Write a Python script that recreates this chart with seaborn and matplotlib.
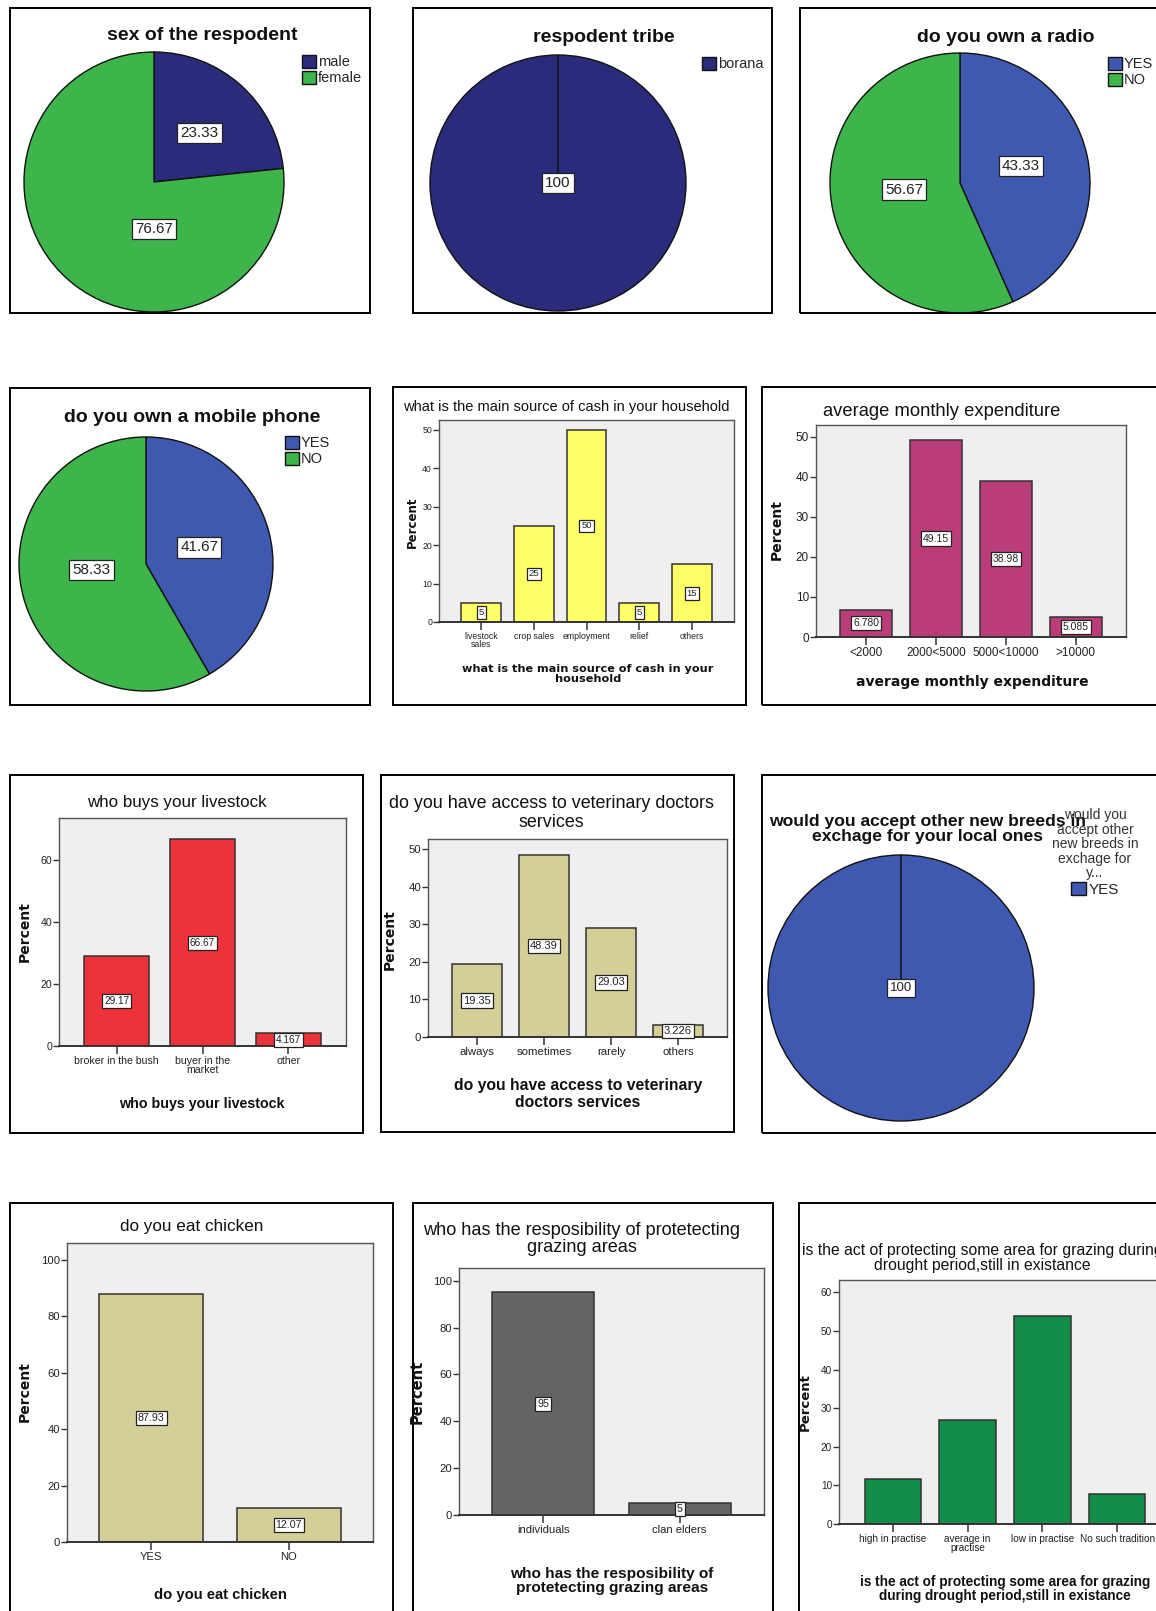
import numpy as np
import seaborn as sns
from matplotlib import pyplot as plt
from matplotlib.patches import Rectangle

# === data ===
sex_labels = ["male", "female"]
sex_values = [23.33, 76.67]
tribe_labels = ["borana"]
tribe_values = [100]
radio_labels = ["YES", "NO"]
radio_values = [43.33, 56.67]
phone_labels = ["YES", "NO"]
phone_values = [41.67, 58.33]
cash_labels = ["livestock\nsales", "crop sales", "employment", "relief", "others"]
cash_values = [5, 25, 50, 5, 15]
expend_labels = ["<2000", "2000<5000", "5000<10000", ">10000"]
expend_values = [6.780, 49.15, 38.98, 5.085]
buyer_labels = ["broker in the bush", "buyer in the\nmarket", "other"]
buyer_values = [29.17, 66.67, 4.167]
vet_labels = ["always", "sometimes", "rarely", "others"]
vet_values = [19.35, 48.39, 29.03, 3.226]
breed_labels = ["YES"]
breed_values = [100]
chicken_labels = ["YES", "NO"]
chicken_values = [87.93, 12.07]
protect_labels = ["individuals", "clan elders"]
protect_values = [95, 5]
tradition_labels = ["high in practise", "average in\npractise", "low in practise", "No such tradition"]
tradition_values = [11.54, 26.92, 53.85, 7.69]

W, H = 1156, 1611
ARIAL = ["Liberation Sans", "DejaVu Sans"]
WIDE = ["DejaVu Sans"]

NAVY = "#2B2B7C"
BLUE = "#3F59B1"
GREEN = "#3DB54A"

sns.set_theme(style="white")
plt.rcParams["font.family"] = ARIAL


def box(l, t, r, b):
    return [l / W, 1 - b / H, (r - l) / W, (b - t) / H]


def frame(fig, l, t, r, b):
    fig.add_artist(Rectangle((l / W, 1 - b / H), (r - l) / W, (b - t) / H,
                             transform=fig.transFigure, fill=False, ec="black", lw=1.4))


def ftext(fig, x, y, s, **kw):
    kw.setdefault("ha", "center")
    kw.setdefault("va", "center")
    kw.setdefault("color", "#111111")
    return fig.text(x / W, 1 - y / H, s, **kw)


def fmt(v):
    if float(v).is_integer():
        return str(int(v))
    return f"{v:#.4g}"


def value_box(ax, x, y, s, size):
    ax.text(x, y, s, ha="center", va="center", fontsize=size, color="#222222",
            bbox=dict(boxstyle="square,pad=0.2", fc="white", ec="#222222", lw=0.9), zorder=5)


def pie_panel(fig, cx, cy, r, values, colors, label_pos, label_size):
    ax = fig.add_axes(box(cx - r * 1.02, cy - r * 1.02, cx + r * 1.02, cy + r * 1.02))
    wedges, _ = ax.pie(values, colors=colors, startangle=90, counterclock=False,
                       wedgeprops=dict(edgecolor="#111111", linewidth=1.0))
    if len(values) == 1:
        # the single slice still shows its start edge in SPSS
        ax.plot([0, 0], [0, 1], color="#111111", lw=1.1)
    ax.set_xlim(-1.02, 1.02)
    ax.set_ylim(-1.02, 1.02)
    ax.set_aspect("equal")
    for v, (dx, dy) in zip(values, label_pos):
        value_box(ax, dx, dy, fmt(v), label_size)
    return wedges


def pie_legend(fig, handles, labels, x, y, size=10.5, **kw):
    return fig.legend(handles, labels, loc=kw.pop("loc", "upper left"), bbox_to_anchor=(x / W, 1 - y / H),
                      frameon=False, handlelength=0.95, handleheight=0.95, handletextpad=0.15,
                      labelspacing=0.12, borderpad=0, borderaxespad=0,
                      prop=dict(family=ARIAL, size=size), **kw)


def bar_panel(fig, rect, labels, values, color, ylim, yticks, xpad, tick_size,
              val_size=None, edge="#333333"):
    ax = fig.add_axes(box(*rect))
    sns.barplot(x=labels, y=values, color=color, saturation=1, width=0.75,
                edgecolor=edge, linewidth=1.1, ax=ax)
    ax.set_facecolor("#EFEFEF")
    ax.set_xlim(-xpad, len(labels) - 1 + xpad)
    ax.set_ylim(*ylim)
    ax.set_yticks(yticks)
    ax.set_xlabel("")
    ax.set_ylabel("")
    for sp in ax.spines.values():
        sp.set_visible(True)
        sp.set_color("#555555")
        sp.set_linewidth(1.0)
    ax.spines["bottom"].set_color("#333333")
    ax.spines["bottom"].set_linewidth(1.4)
    ax.tick_params(axis="x", bottom=True, length=6, width=1.1, color="#333333", pad=1,
                   labelsize=tick_size, labelcolor="#222222")
    ax.tick_params(axis="y", left=True, length=4, width=1.0, color="#333333", pad=1,
                   labelsize=tick_size, labelcolor="#222222")
    for t in ax.get_xticklabels():
        t.set_linespacing(0.85)
    if val_size is not None:
        for p in ax.patches:
            h = p.get_height()
            value_box(ax, p.get_x() + p.get_width() / 2, h / 2, fmt(h), val_size)
    return ax


fig = plt.figure(figsize=(W / 100, H / 100), dpi=100)
fig.patch.set_facecolor("white")

# === row 1: pies ===
frame(fig, 10, 8, 370, 313)
w = pie_panel(fig, 154, 182, 130, sex_values, [NAVY, GREEN], [(0.35, 0.38), (0.0, -0.36)], 11)
ftext(fig, 202, 35, "sex of the respodent", fontsize=14, fontweight="bold")
pie_legend(fig, w, sex_labels, 302, 55)

frame(fig, 413, 8, 772, 313)
w = pie_panel(fig, 558, 183, 128, tribe_values, [NAVY], [(0.0, 0.0)], 11)
ftext(fig, 604, 38, "respodent tribe", fontsize=14, fontweight="bold")
pie_legend(fig, w, tribe_labels, 702, 57)

frame(fig, 800, 8, 1180, 313)
w = pie_panel(fig, 960, 183, 130, radio_values, [BLUE, GREEN], [(0.47, 0.13), (-0.43, -0.05)], 11)
ftext(fig, 1006, 38, "do you own a radio", fontsize=14, fontweight="bold")
pie_legend(fig, w, radio_labels, 1108, 57)

# === row 2 ===
frame(fig, 10, 388, 370, 705)
w = pie_panel(fig, 146, 564, 127, phone_values, [BLUE, GREEN], [(0.42, 0.13), (-0.43, -0.05)], 11)
ftext(fig, 192, 417, "do you own a mobile phone", fontsize=14, fontweight="bold")
pie_legend(fig, w, phone_labels, 285, 436)

frame(fig, 393, 387, 746, 705)
bar_panel(fig, (439, 420, 734, 622), cash_labels, cash_values, "#FFFF66", (0, 52.6), range(0, 51, 10),
          0.80, 6.3, val_size=6.8)
ftext(fig, 566, 407, "what is the main source of cash in your household", fontsize=10.5)
ftext(fig, 588, 674, "what is the main source of cash in your\nhousehold", fontsize=8.1,
      fontweight="bold", family=WIDE, linespacing=1.0)
ftext(fig, 412, 522, "Percent", fontsize=8.5, fontweight="bold", family=WIDE, rotation=90)

frame(fig, 762, 387, 1180, 705)
bar_panel(fig, (816, 425, 1126, 637), expend_labels, expend_values, "#BA3C79", (0, 52.9), range(0, 51, 10),
          0.72, 8.5, val_size=7.5)
ftext(fig, 942, 412, "average monthly expenditure", fontsize=13.2)
ftext(fig, 972, 682, "average monthly expenditure", fontsize=10, fontweight="bold", family=WIDE)
ftext(fig, 777, 530, "Percent", fontsize=10, fontweight="bold", family=WIDE, rotation=90)

# === row 3 ===
frame(fig, 10, 775, 363, 1133)
bar_panel(fig, (59, 818, 346, 1046), buyer_labels, buyer_values, "#EE3239", (0, 73.5), [0, 20, 40, 60],
          0.67, 7.6, val_size=7.3)
ftext(fig, 177, 802, "who buys your livestock", fontsize=12.2)
ftext(fig, 202, 1104, "who buys your livestock", fontsize=10.3, fontweight="bold")
ftext(fig, 25, 932, "Percent", fontsize=10, fontweight="bold", family=WIDE, rotation=90)

frame(fig, 381, 775, 734, 1132)
bar_panel(fig, (428, 839, 727, 1037), vet_labels, vet_values, "#D4CF97", (0, 52.7), range(0, 51, 10),
          0.73, 8.2, val_size=8.0)
ftext(fig, 551, 813, "do you have access to veterinary doctors\nservices", fontsize=12.9, linespacing=1.1)
ftext(fig, 578, 1094, "do you have access to veterinary\ndoctors services", fontsize=11.3,
      fontweight="bold", linespacing=1.1)
ftext(fig, 390, 940, "Percent", fontsize=10, fontweight="bold", family=WIDE, rotation=90)

frame(fig, 762, 775, 1180, 1133)
w = pie_panel(fig, 901, 988, 133, breed_values, [BLUE], [(0.0, 0.0)], 9.5)
ftext(fig, 928, 829, "would you accept other new breeds in\nexchage for your local ones", fontsize=12.6,
      fontweight="bold", linespacing=0.95)
leg = pie_legend(fig, w, breed_labels, 1095, 808, size=11, loc="upper center", alignment="center",
                 title="would you\naccept other\nnew breeds in\nexchage for\ny...",
                 title_fontproperties=dict(family=ARIAL, size=10))
leg.get_title().set_multialignment("center")
leg.get_title().set_color("#333333")
leg.get_title().set_linespacing(1.05)

# === row 4 ===
frame(fig, 10, 1203, 393, 1640)
bar_panel(fig, (67, 1243, 373, 1542), chicken_labels, chicken_values, "#D4CF97", (0, 105.9),
          range(0, 101, 20), 0.61, 8.1, val_size=7.7)
ftext(fig, 192, 1227, "do you eat chicken", fontsize=12.3)
ftext(fig, 220, 1595, "do you eat chicken", fontsize=10.6, fontweight="bold")
ftext(fig, 25, 1392, "Percent", fontsize=10, fontweight="bold", family=WIDE, rotation=90)

frame(fig, 413, 1203, 773, 1640)
bar_panel(fig, (459, 1268, 764, 1515), protect_labels, protect_values, "#646464", (0, 105.4),
          range(0, 101, 20), 0.62, 8.1, val_size=7.7)
ftext(fig, 582, 1239, "who has the resposibility of protetecting\ngrazing areas", fontsize=13.1,
      linespacing=1.05)
ftext(fig, 612, 1581, "who has the resposibility of\nprotetecting grazing areas", fontsize=11.1,
      fontweight="bold", linespacing=1.05)
ftext(fig, 417, 1392, "Percent", fontsize=10.5, fontweight="bold", family=WIDE, rotation=90)

frame(fig, 799, 1203, 1180, 1640)
bar_panel(fig, (839, 1280, 1171, 1524), tradition_labels, tradition_values, "#118C49", (0, 63.2),
          range(0, 61, 10), 0.716, 7.2)
ftext(fig, 802, 1258, "is the act of protecting some area for grazing during\n"
      "drought period,still in existance", fontsize=11.3, linespacing=1.0,
      ha="left", multialignment="center")
ftext(fig, 1005, 1589, "is the act of protecting some area for grazing\nduring drought period,still in existance",
      fontsize=9.8, fontweight="bold", linespacing=1.0)
ftext(fig, 805, 1402, "Percent", fontsize=9.5, fontweight="bold", family=WIDE, rotation=90)

fig.savefig("out.png", dpi=100)
